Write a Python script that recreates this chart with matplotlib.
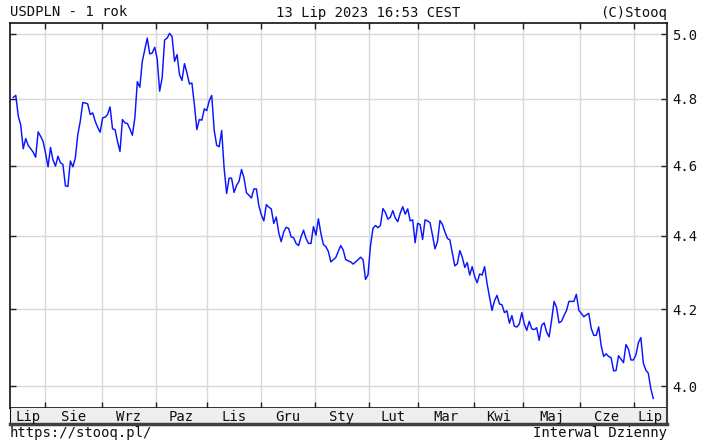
import numpy as np
import pandas as pd
import matplotlib
matplotlib.use('Agg')
import matplotlib.pyplot as plt
from matplotlib.ticker import FixedLocator, FormatStrFormatter, NullLocator

# USDPLN daily closes (13 Jul 2022 - 13 Jul 2023)
close_jul_oct = [
    4.804, 4.81, 4.747, 4.72, 4.65, 4.68, 4.66, 4.65, 4.64, 4.625,
    4.70, 4.687, 4.672, 4.637, 4.597, 4.654, 4.617, 4.599, 4.628, 4.609,
    4.604, 4.542, 4.54, 4.614, 4.597, 4.622, 4.692, 4.732, 4.788, 4.787,
    4.784, 4.752, 4.757, 4.732, 4.714, 4.699, 4.742, 4.744, 4.752, 4.775,
    4.709, 4.707, 4.672, 4.642, 4.737, 4.727, 4.725, 4.709, 4.69, 4.742,
    4.852, 4.835, 4.915, 4.952, 4.988, 4.938, 4.941, 4.959, 4.923, 4.823,
    4.864, 4.982, 4.988, 5.003, 4.993, 4.915, 4.936, 4.874, 4.856, 4.908,
    4.879, 4.845, 4.848, 4.782, 4.707, 4.737, 4.735, 4.769, 4.764, 4.794,
    4.81, 4.704, 4.66, 4.656, 4.704, 4.592, 4.52,
]
close_nov_feb = [
    4.564, 4.564, 4.523, 4.543, 4.555, 4.589, 4.565, 4.522, 4.515, 4.507,
    4.533, 4.533, 4.485, 4.459, 4.442, 4.488, 4.481, 4.476, 4.435, 4.453,
    4.409, 4.384, 4.411, 4.424, 4.421, 4.397, 4.395, 4.379, 4.373, 4.397,
    4.416, 4.393, 4.379, 4.379, 4.426, 4.402, 4.448, 4.407, 4.376, 4.37,
    4.357, 4.328, 4.334, 4.34, 4.357, 4.373, 4.361, 4.334, 4.331, 4.328,
    4.322, 4.328, 4.334, 4.341, 4.334, 4.28, 4.293, 4.373, 4.421, 4.429,
    4.423, 4.429, 4.477, 4.466, 4.447, 4.452, 4.471, 4.45, 4.44, 4.464,
    4.482, 4.461, 4.476, 4.442, 4.445, 4.381, 4.435, 4.432, 4.39, 4.445,
    4.442, 4.437, 4.402, 4.364, 4.384, 4.443, 4.432, 4.411, 4.393,
]
close_mar_jul = [
    4.389, 4.352, 4.317, 4.323, 4.359, 4.341, 4.313, 4.326, 4.292, 4.315,
    4.288, 4.271, 4.295, 4.292, 4.315, 4.269, 4.232, 4.197, 4.223, 4.237,
    4.214, 4.212, 4.191, 4.196, 4.163, 4.183, 4.155, 4.153, 4.161, 4.191,
    4.161, 4.144, 4.168, 4.148, 4.146, 4.151, 4.118, 4.157, 4.164, 4.14,
    4.127, 4.17, 4.221, 4.205, 4.164, 4.168, 4.183, 4.196, 4.221, 4.221,
    4.221, 4.24, 4.197, 4.189, 4.18, 4.185, 4.189, 4.149, 4.131, 4.131,
    4.153, 4.104, 4.076, 4.083, 4.076, 4.073, 4.039, 4.04, 4.078, 4.069,
    4.06, 4.107, 4.095, 4.067, 4.067, 4.08, 4.112, 4.125, 4.059, 4.041,
    4.033, 3.994, 3.969,
]
month_labels = ['Lip', 'Sie', 'Wrz', 'Paz', 'Lis', 'Gru', 'Sty',
                'Lut', 'Mar', 'Kwi', 'Maj', 'Cze', 'Lip']
y_ticks = [4.0, 4.2, 4.4, 4.6, 4.8, 5.0]

values = close_jul_oct + close_nov_feb + close_mar_jul
days = pd.bdate_range('2022-07-13', '2023-07-13')
x = np.linspace(0, len(days) - 1, len(values))
month_starts = [i for i in range(1, len(days)) if days[i].month != days[i - 1].month]

W, H = 705, 441
mono = 'DejaVu Sans Mono'
txt = '#10101a'
grid_c = '#d8d8d8'

fig = plt.figure(figsize=(W / 100, H / 100), dpi=100)
ax = fig.add_axes([10 / W, 1 - 408 / H, 657 / W, 385 / H])
band = fig.add_axes([10 / W, 1 - 423.5 / H, 657 / W, 15.5 / H])

x_lo, x_hi = -1.35, len(days) - 1 + 5.6
ax.plot(x, values, color='#0a14ff', lw=1.05, zorder=3)
ax.set_yscale('log')
ax.set_xlim(x_lo, x_hi)
ax.set_ylim(3.945, 5.036)
ax.yaxis.set_major_locator(FixedLocator(y_ticks))
ax.yaxis.set_major_formatter(FormatStrFormatter('%.1f'))
ax.yaxis.set_minor_locator(NullLocator())
ax.xaxis.set_major_locator(FixedLocator(month_starts))
ax.set_xticklabels([])
ax.grid(True, color=grid_c, lw=1)
ax.tick_params(axis='x', direction='in', length=4, width=1, top=True, bottom=True, color='#202020')
ax.tick_params(axis='y', direction='in', length=4, width=1, left=True, right=True,
               labelleft=False, labelright=True, labelsize=10, pad=4,
               labelcolor=txt, color='#202020')
for lbl in ax.get_yticklabels():
    lbl.set_family(mono)
for s in ['left', 'top', 'bottom']:
    ax.spines[s].set_color('#101010')
    ax.spines[s].set_linewidth(1.2)
ax.spines['right'].set_color('#404040')
ax.spines['right'].set_linewidth(1.5)

# month strip under the chart
band.set_facecolor('#eeeeee')
band.set_xlim(x_lo, x_hi)
band.set_ylim(0, 1)
band.set_xticks([])
band.set_yticks([])
band.spines['top'].set_visible(False)
band.spines['bottom'].set_color('#404040')
band.spines['bottom'].set_linewidth(2.5)
band.spines['left'].set_color('#101010')
band.spines['right'].set_color('#404040')
band.spines['right'].set_linewidth(1.5)
edges = [x_lo] + month_starts + [x_hi]
for lbl, a, b in zip(month_labels, edges[:-1], edges[1:]):
    band.text((a + b) / 2, 0.45, lbl, ha='center', va='center',
              family=mono, fontsize=10, color=txt)

fig.text(10 / W, 1 - 12.5 / H, 'USDPLN - 1 rok', ha='left', va='center',
         family=mono, fontsize=10, color=txt)
fig.text(368 / W, 1 - 12.5 / H, '13 Lip 2023 16:53 CEST', ha='center', va='center',
         family=mono, fontsize=10, color=txt)
fig.text(667 / W, 1 - 12.5 / H, '(C)Stooq', ha='right', va='center',
         family=mono, fontsize=10, color=txt)
fig.text(10 / W, 1 - 432.5 / H, 'https://stooq.pl/', ha='left', va='center',
         family=mono, fontsize=10, color=txt)
fig.text(667 / W, 1 - 433 / H, 'Interwal Dzienny', ha='right', va='center',
         family=mono, fontsize=10, color=txt)

fig.savefig('out.png', dpi=100, facecolor='white')
